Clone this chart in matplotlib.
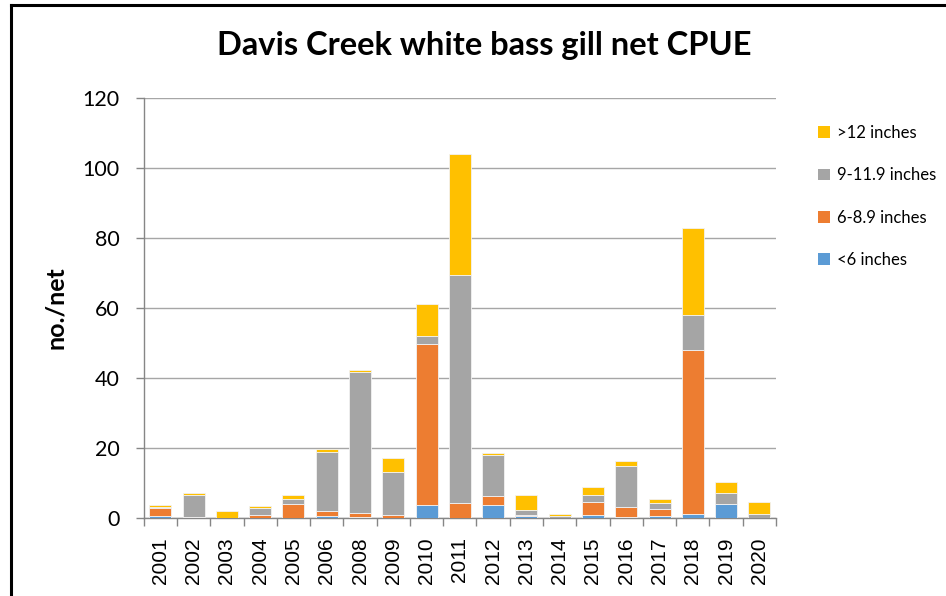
import matplotlib
matplotlib.use("Agg")
import matplotlib.pyplot as plt
from matplotlib.patches import Patch
from matplotlib.lines import Line2D
import numpy as np

years = ["2001", "2002", "2003", "2004", "2005", "2006", "2008", "2009", "2010",
         "2011", "2012", "2013", "2014", "2015", "2016", "2017", "2018", "2019", "2020"]
lt6 = [0.5, 0.0, 0.0, 0.1, 0.0, 0.6, 0.2, 0.0, 3.6, 0.1, 3.6, 0.6, 0.0, 0.9, 0.2, 0.6, 1.1, 4.0, 0.0]
in6_89 = [2.4, 0.2, 0.0, 0.7, 4.0, 1.3, 1.3, 0.8, 46.2, 4.2, 2.6, 0.3, 0.1, 3.8, 3.0, 2.0, 46.9, 0.1, 0.1]
in9_119 = [0.2, 6.3, 0.1, 2.1, 1.3, 17.0, 40.2, 12.3, 2.1, 65.0, 11.7, 1.4, 0.5, 2.0, 11.8, 1.7, 10.0, 3.0, 1.0]
gt12 = [0.6, 0.7, 1.8, 0.4, 1.2, 0.7, 0.6, 4.0, 9.2, 34.7, 0.7, 4.4, 0.6, 2.2, 1.4, 1.1, 24.9, 3.3, 3.6]

series = [("<6 inches", lt6, "#5B9BD5"),
          ("6-8.9 inches", in6_89, "#ED7D31"),
          ("9-11.9 inches", in9_119, "#A5A5A5"),
          (">12 inches", gt12, "#FFC000")]

W, H = 946, 596
fig = plt.figure(figsize=(W / 100, H / 100), dpi=100)
fig.patch.set_facecolor("white")

ax = fig.add_axes([143.7 / W, 1 - 518 / H, (776 - 143.7) / W, (518 - 98) / H])

x = np.arange(len(years))
bottom = np.zeros(len(years))
for name, vals, col in series:
    v = np.array(vals, dtype=float)
    ax.bar(x, v, bottom=bottom, width=0.66, color=col, edgecolor="#F2F2F2",
           linewidth=0.6, label=name, zorder=3)
    bottom += v

ax.set_xlim(-0.5, len(years) - 0.5)
ax.set_ylim(0, 120)
ax.set_yticks(np.arange(0, 121, 20))
ax.grid(axis="y", color="#A6A6A6", linewidth=1.0, zorder=0)
ax.set_axisbelow(True)

for s in ["top", "right"]:
    ax.spines[s].set_visible(False)
for s in ["left", "bottom"]:
    ax.spines[s].set_color("#868686")
    ax.spines[s].set_linewidth(1.0)

ax.set_xticks(x)
ax.set_xticklabels(years, rotation=90, fontsize=15, family="Liberation Sans")
ax.set_xticks(np.arange(-0.5, len(years), 1.0), minor=True)
ax.tick_params(axis="x", which="major", length=0, pad=14)
ax.tick_params(axis="x", which="minor", length=6, color="#868686", width=1.0)
ax.tick_params(axis="y", length=5.5, color="#868686", width=1.0, pad=12, labelsize=15.5)
for lbl in ax.get_yticklabels():
    lbl.set_family("Lato")

ax.set_ylabel("no./net", fontsize=18, fontweight="bold", family="Lato")
ax.yaxis.set_label_coords((67 - 143.7) / ((776 - 143.7)), 0.5)

fig.text(484 / W, 1 - 46 / H, "Davis Creek white bass gill net CPUE",
         ha="center", va="center", fontsize=23.5, fontweight="bold", family="Lato")

handles = [Patch(facecolor=c, edgecolor="none", label=n) for n, v, c in series][::-1]
leg = fig.legend(handles=handles, loc="upper left", bbox_to_anchor=(803 / W, 1 - 110 / H),
                 frameon=False, handlelength=0.7, handleheight=0.7,
                 handletextpad=0.45, labelspacing=1.58, prop={"family": "Lato", "size": 12})

# chart border (left and top visible)
fig.add_artist(Line2D([10.5 / W, 10.5 / W], [0, 1 - 4.5 / H], color="black", linewidth=2.2,
                      transform=fig.transFigure))
fig.add_artist(Line2D([10.5 / W, 1.0], [1 - 4.5 / H, 1 - 4.5 / H], color="black", linewidth=2.2,
                      transform=fig.transFigure))

fig.savefig("out.png", dpi=100)
